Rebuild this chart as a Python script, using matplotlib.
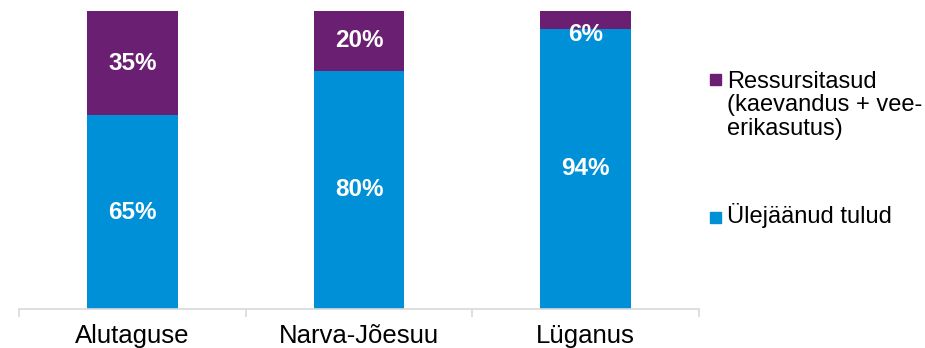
import matplotlib.pyplot as plt
from matplotlib.patches import Rectangle
import numpy as np

plt.rcParams['font.family'] = ['Liberation Sans', 'DejaVu Sans']

omavalitsused = ['Alutaguse', 'Narva-Jõesuu', 'Lüganus']
ylejaanud = [65, 80, 94]
ressurss = [35, 20, 6]

sinine = '#0090d8'
lilla = '#6b1f72'

fig = plt.figure(figsize=(9.25, 3.48), dpi=100)
ax = fig.add_axes([19/925, 1 - 309/348, 680/925, 298/348])

x = np.arange(len(omavalitsused))
ax.bar(x, ylejaanud, width=0.4, color=sinine)
ax.bar(x, ressurss, width=0.4, bottom=ylejaanud, color=lilla)

# protsendid ribade sisse, et ülemine silt ei läheks joonisest välja
for i in range(len(x)):
    ax.text(x[i], ylejaanud[i] / 2, f'{ylejaanud[i]}%', ha='center', va='center',
            color='white', fontsize=17.5, fontweight='bold')
    yk = min(ylejaanud[i] + ressurss[i] / 2, 92)
    ax.text(x[i], yk, f'{ressurss[i]}%', ha='center', va='center',
            color='white', fontsize=17.5, fontweight='bold')

ax.set_xlim(-0.5, len(x) - 0.5)
ax.set_ylim(0, 100)
ax.set_yticks([])
ax.set_xticks(x)
ax.set_xticklabels(omavalitsused, fontsize=18.5)
ax.set_xticks([-0.5, 0.5, 1.5, 2.5], minor=True)
ax.tick_params(axis='x', which='major', length=0, pad=11)
ax.tick_params(axis='x', which='minor', length=6, color='#d9d9d9', width=1.2)
for s in ['top', 'left', 'right']:
    ax.spines[s].set_visible(False)
ax.spines['bottom'].set_color('#d9d9d9')
ax.spines['bottom'].set_linewidth(1.2)

# legend käsitsi
fig.patches.append(Rectangle((710/925, 1 - 85/348), 11/925, 11/348,
                             transform=fig.transFigure, color=lilla))
fig.text(727/925, 1 - 71/348, 'Ressursitasud\n(kaevandus + vee-\nerikasutus)',
         fontsize=17, va='top', linespacing=1.08)
fig.patches.append(Rectangle((710/925, 1 - 223/348), 11/925, 11/348,
                             transform=fig.transFigure, color=sinine))
fig.text(727/925, 1 - 223/348, 'Ülejäänud tulud', fontsize=17, va='baseline')

fig.savefig('out.png', dpi=100)
